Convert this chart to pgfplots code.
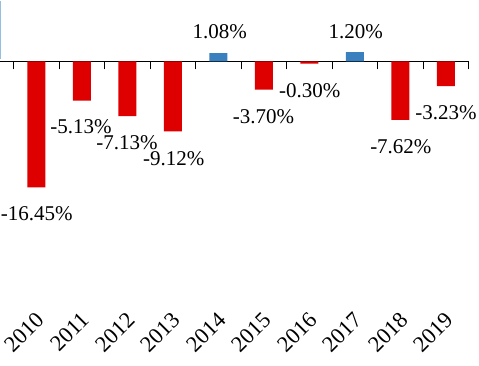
\documentclass[border=0pt]{standalone}
\usepackage{pgfplots}
\pgfplotsset{compat=1.18}
\usepackage{fontspec}
\setmainfont{Liberation Serif}
\definecolor{barred}{RGB}{222,0,0}
\definecolor{barblue}{RGB}{58,128,190}
\definecolor{lineblue}{RGB}{150,190,225}
\begin{document}
\fontsize{21bp}{25bp}\selectfont
\begin{tikzpicture}[x=1bp,y=1bp]
\useasboundingbox (0,0) rectangle (479,365);
\clip (0,0) rectangle (479,365);
\begin{axis}[
  at={(0,83)}, anchor=south west,
  scale only axis, width=468.65bp, height=300bp,
  xmin=-0.8, xmax=9.5, ymin=-31.33, ymax=7.83,
  axis x line*=middle, axis y line=none,
  x axis line style={line width=1bp, color=black},
  xtick={-0.5,0.5,...,9.5}, xticklabels={},
  xtick style={line width=1bp, color=black},
  major tick length=8bp, xtick align=inside,
  extra x ticks={0,1,...,9},
  extra x tick labels={2010,2011,2012,2013,2014,2015,2016,2017,2018,2019},
  extra x tick style={major tick length=0pt,
    tick label style={font=\fontsize{22.5bp}{26bp}\selectfont, xshift=-2bp, yshift=-249bp, rotate=45, anchor=north east, inner sep=0pt}},
  ybar, bar width=18bp, bar shift=0pt,
  clip=false,
  every node/.append style={font=\fontsize{21bp}{25bp}\selectfont},
]
\addplot[fill=barred, draw=none] coordinates {(0,-16.45) (1,-5.13) (2,-7.13) (3,-9.12) (5,-3.70) (6,-0.30) (8,-7.62) (9,-3.23)};
\addplot[fill=barblue, draw=none] coordinates {(4,1.08) (7,1.20)};
\draw[color=lineblue, line width=1.2bp] (axis cs:-0.789,0.3) -- (axis cs:-0.789,7.83);
\node at (axis cs:0.01,-19.84) {-16.45\%};
\node at (axis cs:0.98,-8.49) {-5.13\%};
\node at (axis cs:1.99,-10.57) {-7.13\%};
\node at (axis cs:3.02,-12.66) {-9.12\%};
\node at (axis cs:4.03,3.92) {1.08\%};
\node at (axis cs:4.99,-7.18) {-3.70\%};
\node at (axis cs:6.01,-3.79) {-0.30\%};
\node at (axis cs:7.02,3.92) {1.20\%};
\node at (axis cs:8.01,-11.1) {-7.62\%};
\node at (axis cs:9.0,-6.66) {-3.23\%};
\end{axis}
\end{tikzpicture}
\end{document}
